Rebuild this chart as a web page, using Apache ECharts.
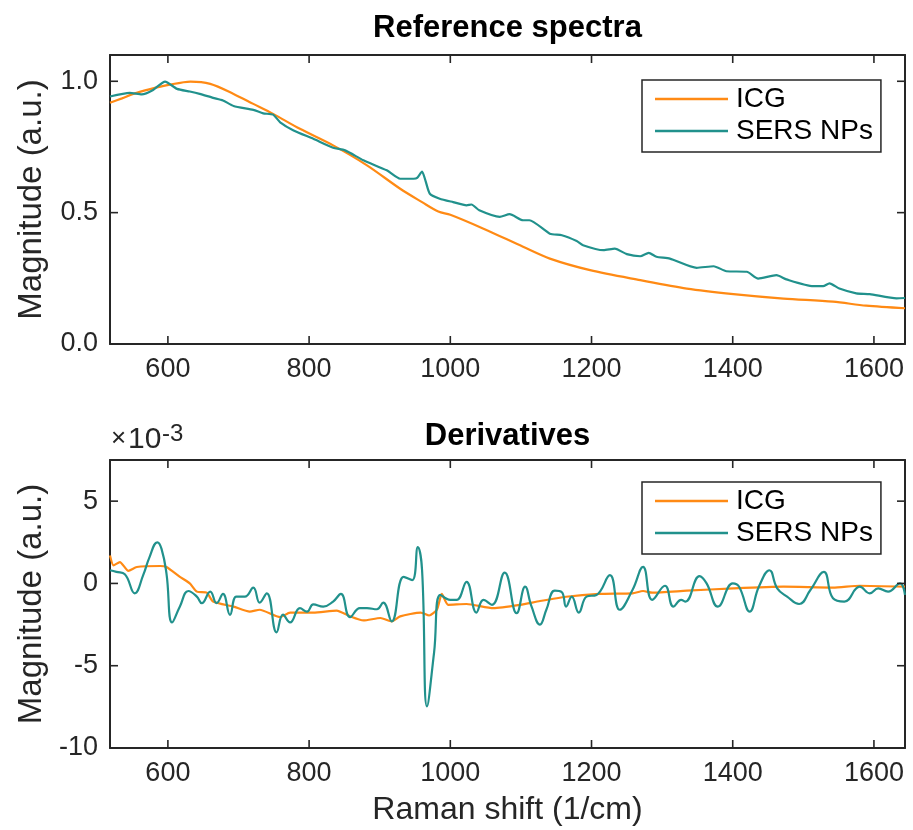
<!DOCTYPE html>
<html>
<head>
<meta charset="utf-8">
<script src="https://cdn.jsdelivr.net/npm/echarts@6/dist/echarts.min.js"></script>
<style>
html,body{margin:0;padding:0;background:#fff;}
#chart{width:913px;height:830px;}
</style>
</head>
<body>
<div id="chart"></div>
<script>
// ---- Data ----
var xTicks = [600, 800, 1000, 1200, 1400, 1600];
var yTicksTop = [0, 0.5, 1.0];
var yTicksBottom = [-10, -5, 0, 5];
var seriesNames = ['ICG', 'SERS NPs'];

// Top panel: reference spectra (normalised magnitude)
var icgSpecX = [518, 535, 551, 575, 601, 632, 660, 693, 721, 749, 787, 834, 882, 929, 960, 983, 1000, 1047, 1103, 1141, 1198, 1269, 1335, 1401, 1472, 1542, 1589, 1644];
var icgSpecY = [0.918, 0.935, 0.952, 0.970, 0.986, 0.999, 0.990, 0.952, 0.914, 0.876, 0.819, 0.756, 0.680, 0.591, 0.540, 0.504, 0.492, 0.439, 0.370, 0.325, 0.281, 0.243, 0.211, 0.190, 0.173, 0.161, 0.146, 0.136];

var sersSpecX = [518, 546, 563, 579, 596, 613, 631, 645, 664, 678, 693, 721, 735, 749, 759, 778, 806, 834, 851, 877, 910, 929, 948, 953, 960, 965, 971, 985, 1004, 1023, 1030, 1041, 1070, 1084, 1103, 1112, 1141, 1158, 1179, 1188, 1217, 1233, 1250, 1269, 1281, 1292, 1311, 1349, 1373, 1391, 1420, 1436, 1462, 1476, 1514, 1528, 1537, 1551, 1575, 1594, 1632, 1644];
var sersSpecY = [0.942, 0.956, 0.950, 0.967, 0.999, 0.971, 0.961, 0.952, 0.937, 0.927, 0.906, 0.891, 0.878, 0.873, 0.844, 0.813, 0.781, 0.747, 0.737, 0.699, 0.661, 0.629, 0.629, 0.632, 0.656, 0.620, 0.572, 0.553, 0.540, 0.528, 0.531, 0.509, 0.484, 0.494, 0.471, 0.471, 0.420, 0.414, 0.392, 0.376, 0.357, 0.363, 0.342, 0.334, 0.347, 0.332, 0.325, 0.290, 0.296, 0.277, 0.275, 0.249, 0.262, 0.246, 0.220, 0.220, 0.231, 0.211, 0.193, 0.190, 0.174, 0.175];

// Bottom panel: derivatives (values in units of 1e-3)
var icgDerX = [518, 523, 532, 544, 556, 589, 598, 617, 631, 641, 655, 664, 693, 716, 730, 759, 773, 806, 839, 858, 877, 901, 917, 929, 958, 970, 981, 988, 997, 1023, 1061, 1099, 1127, 1164, 1211, 1258, 1273, 1286, 1335, 1401, 1472, 1542, 1580, 1644];
var icgDerY = [1.70, 1.10, 1.30, 0.76, 1.00, 1.06, 1.00, 0.40, 0.00, -0.50, -0.56, -1.10, -1.41, -1.71, -1.60, -2.05, -1.77, -1.77, -1.65, -2.00, -2.25, -2.10, -2.30, -2.00, -1.77, -1.95, -1.60, -0.64, -1.30, -1.25, -1.50, -1.30, -1.07, -0.81, -0.64, -0.60, -0.46, -0.56, -0.44, -0.30, -0.20, -0.26, -0.14, -0.20];

var sersDerX = [518, 527, 539, 553, 565, 574, 585, 591, 598, 606, 617, 629, 641, 648, 660, 669, 678, 688, 697, 709, 721, 730, 740, 754, 763, 773, 787, 797, 806, 820, 834, 845, 858, 872, 882, 896, 905, 917, 934, 946, 954, 960, 967, 977, 986, 1000, 1009, 1023, 1037, 1047, 1059, 1077, 1094, 1106, 1115, 1127, 1136, 1148, 1158, 1164, 1172, 1182, 1193, 1207, 1226, 1240, 1258, 1273, 1286, 1304, 1316, 1327, 1333, 1353, 1363, 1379, 1400, 1409, 1424, 1437, 1452, 1463, 1477, 1494, 1510, 1529, 1542, 1558, 1580, 1594, 1606, 1620, 1637, 1644];
var sersDerY = [0.80, 0.70, 0.56, -0.60, 0.50, 1.60, 2.50, 2.10, 0.60, -2.37, -1.40, -0.46, -0.80, -1.20, -0.50, -1.20, -0.64, -1.91, -0.80, -0.80, -0.26, -1.17, -0.60, -2.97, -1.90, -2.37, -1.50, -1.71, -1.27, -1.41, -1.10, -0.64, -2.05, -1.50, -1.50, -1.57, -1.17, -2.30, 0.40, 0.20, 2.20, 0.80, -7.47, -4.20, -0.70, -1.00, -1.00, 0.10, -1.77, -1.00, -1.30, 0.66, -1.81, -0.20, -1.40, -2.50, -1.60, -0.44, -0.54, -1.41, -0.80, -1.77, -0.80, -0.70, 0.50, -1.60, -0.40, 1.00, -1.00, -0.14, -1.41, -1.00, -1.10, 0.44, 0.00, -1.41, 0.00, -0.20, -1.71, -0.20, 0.80, -0.30, -0.80, -1.25, -0.40, 0.70, -0.90, -1.10, -0.20, -0.60, -0.30, -0.50, 0.00, -0.70];

// ---- Build ----
function pairs(xs, ys) { return xs.map(function (x, i) { return [x, ys[i]]; }); }

var FONT = '"Liberation Sans", Arial, Helvetica, sans-serif';
var DARK = '#262626';
var ORANGE = '#ff8a14';
var TEAL = '#21918c';
var X_MIN = 518, X_MAX = 1644;
var TOP_Y = [0, 1.1], BOT_Y = [-10, 7.5];
var TICK = 8;

function axisLineOpt() { return { show: true, onZero: false, lineStyle: { color: DARK, width: 2 } }; }

function xAxisPair(gridIndex) {
  var bottom = {
    type: 'value', gridIndex: gridIndex, min: X_MIN, max: X_MAX, position: 'bottom',
    axisLine: axisLineOpt(), axisTick: { show: false }, splitLine: { show: false },
    axisLabel: { show: true, customValues: xTicks, margin: 12, fontSize: 27, color: DARK, fontFamily: FONT,
      formatter: function (v) { return String(v); } }
  };
  var top = {
    type: 'value', gridIndex: gridIndex, min: X_MIN, max: X_MAX, position: 'top',
    axisLine: axisLineOpt(), axisTick: { show: false }, splitLine: { show: false }, axisLabel: { show: false }
  };
  return [bottom, top];
}

function yAxisPair(gridIndex, ext, ticks, fmt, gap) {
  var left = {
    type: 'value', gridIndex: gridIndex, min: ext[0], max: ext[1], position: 'left',
    axisLine: axisLineOpt(), axisTick: { show: false }, splitLine: { show: false },
    name: 'Magnitude (a.u.)', nameLocation: 'middle', nameGap: gap,
    nameTextStyle: { fontSize: 33, color: DARK, fontFamily: FONT },
    axisLabel: { show: true, customValues: ticks, margin: 12, fontSize: 27, color: DARK, fontFamily: FONT, formatter: fmt }
  };
  var right = {
    type: 'value', gridIndex: gridIndex, min: ext[0], max: ext[1], position: 'right',
    axisLine: axisLineOpt(), axisTick: { show: false }, splitLine: { show: false }, axisLabel: { show: false }
  };
  return [left, right];
}

var xs1 = xAxisPair(0), xs2 = xAxisPair(1);
xs2[0].name = 'Raman shift (1/cm)';
xs2[0].nameLocation = 'middle';
xs2[0].nameGap = 46;
xs2[0].nameTextStyle = { fontSize: 32, color: DARK, fontFamily: FONT };

var ys1 = yAxisPair(0, TOP_Y, yTicksTop, function (v) { return v.toFixed(1); }, 62);
var ys2 = yAxisPair(1, BOT_Y, yTicksBottom, function (v) { return String(v); }, 62);

function legendAt(top) {
  return {
    orient: 'vertical', left: 642, top: top,
    data: seriesNames.map(function (n) { return { name: n, icon: 'rect' }; }),
    itemWidth: 73, itemHeight: 2.5, itemGap: 2,
    padding: [4, 8, 6, 13],
    borderColor: DARK, borderWidth: 1.5, backgroundColor: '#fff',
    textStyle: { fontSize: 28, color: '#000', fontFamily: FONT, lineHeight: 30, padding: [0, 0, 0, 3] }
  };
}

function line(name, xi, yi, data, color, smooth) {
  return {
    type: 'line', name: name, xAxisIndex: xi, yAxisIndex: yi, data: data,
    showSymbol: false, symbol: 'none', smooth: smooth,
    lineStyle: { color: color, width: 2.2 }, itemStyle: { color: color },
    animation: false
  };
}

// Inward box ticks drawn by a custom series, positioned through the axes' own scales
function tickSeries(xi, yi, yExt, isX) {
  var data = isX
    ? xTicks.map(function (v) { return [v, yExt[0]]; })
    : (yi === 0 ? yTicksTop : yTicksBottom).map(function (v) { return [X_MIN, v]; });
  return {
    type: 'custom', name: 'ticks', xAxisIndex: xi, yAxisIndex: yi, data: data,
    clip: false, silent: true, animation: false, z: 5,
    renderItem: function (params, api) {
      var a, b, s = { stroke: DARK, lineWidth: 1.6 };
      if (isX) {
        var v = api.value(0);
        a = api.coord([v, yExt[0]]);
        b = api.coord([v, yExt[1]]);
        return { type: 'group', children: [
          { type: 'line', shape: { x1: a[0], y1: a[1], x2: a[0], y2: a[1] - TICK }, style: s },
          { type: 'line', shape: { x1: b[0], y1: b[1], x2: b[0], y2: b[1] + TICK }, style: s }
        ] };
      } else {
        var w = api.value(1);
        a = api.coord([X_MIN, w]);
        b = api.coord([X_MAX, w]);
        return { type: 'group', children: [
          { type: 'line', shape: { x1: a[0], y1: a[1], x2: a[0] + TICK, y2: a[1] }, style: s },
          { type: 'line', shape: { x1: b[0], y1: b[1], x2: b[0] - TICK, y2: b[1] }, style: s }
        ] };
      }
    }
  };
}

var chart = echarts.init(document.getElementById('chart'));
chart.setOption({
  animation: false,
  grid: [
    { left: 110, top: 55, width: 795, height: 289 },
    { left: 110, top: 460, width: 795, height: 288 }
  ],
  xAxis: [xs1[0], xs1[1], xs2[0], xs2[1]],
  yAxis: [ys1[0], ys1[1], ys2[0], ys2[1]],
  legend: [legendAt(80), legendAt(482)],
  series: [
    line('ICG', 0, 0, pairs(icgSpecX, icgSpecY), ORANGE, 0.3),
    line('SERS NPs', 0, 0, pairs(sersSpecX, sersSpecY), TEAL, 0.2),
    line('ICG', 2, 2, pairs(icgDerX, icgDerY), ORANGE, 0.2),
    line('SERS NPs', 2, 2, pairs(sersDerX, sersDerY), TEAL, 0.45),
    tickSeries(0, 0, TOP_Y, true),
    tickSeries(0, 0, TOP_Y, false),
    tickSeries(2, 2, BOT_Y, true),
    tickSeries(2, 2, BOT_Y, false)
  ],
  graphic: [
    { type: 'text', x: 507.5, y: 28, style: { text: 'Reference spectra', fill: '#000', font: 'bold 31px ' + FONT, textAlign: 'center', textVerticalAlign: 'middle' } },
    { type: 'text', x: 507.5, y: 436, style: { text: 'Derivatives', fill: '#000', font: 'bold 31px ' + FONT, textAlign: 'center', textVerticalAlign: 'middle' } },
    { type: 'text', x: 111, y: 452, style: { text: '\u00d7', fill: DARK, font: '26px ' + FONT, textAlign: 'left', textVerticalAlign: 'bottom' } },
    { type: 'text', x: 128, y: 455, style: { text: '10', fill: DARK, font: '30px ' + FONT, textAlign: 'left', textVerticalAlign: 'bottom' } },
    { type: 'text', x: 162, y: 446, style: { text: '-3', fill: DARK, font: '24px ' + FONT, textAlign: 'left', textVerticalAlign: 'bottom' } }
  ]
});
</script>
</body>
</html>
